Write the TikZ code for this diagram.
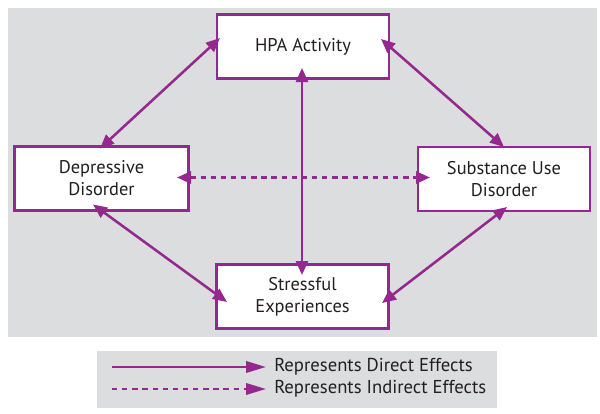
\documentclass[tikz,border=0pt]{standalone}
\usepackage{fontspec}
\setmainfont{PT Sans}
\usetikzlibrary{arrows.meta,calc}
\definecolor{vio}{RGB}{148,40,142}
\definecolor{bggray}{RGB}{220,221,222}
\definecolor{txt}{RGB}{35,31,32}
\begin{document}
\begin{tikzpicture}[x=0.75pt,y=-0.75pt,
  box/.style={draw=vio,line width=2.1pt,fill=white,minimum width=129pt,minimum height=48pt,
    inner sep=2pt,align=center,text=txt,font=\fontsize{13.8}{16.5}\selectfont},
  biarrow/.style={vio,line width=1.9pt,{Triangle[length=10.5pt,width=9pt]}-{Triangle[length=10.5pt,width=9pt]}},
  dasharrow/.style={biarrow,dash pattern=on 4pt off 3.6pt},
  legarrow/.style={vio,line width=1.9pt,-{Triangle[length=15pt,width=8.5pt]}},
  legtext/.style={anchor=west,inner sep=0pt,text=txt,font=\fontsize{14}{16}\selectfont}]
\useasboundingbox (0,0) rectangle (600,414);
\fill[bggray] (8,8) rectangle (597,337);
\fill[bggray] (97,351) rectangle (497,408);

\node[box] (hpa) at (303,46.5) {HPA Activity};
\node[box,minimum width=130.5pt] (dep) at (101.5,178.5) {Depressive\\Disorder};
\node[box] (sub) at (504,179) {Substance Use\\Disorder};
\node[box] (stress) at (302.5,296.5) {Stressful\\Experiences};

\draw[biarrow] ([shift={(-83,-8.5)}]hpa.center) -- ([shift={(-1.5,-30)}]dep.center);
\draw[biarrow] ([shift={(78,-7.5)}]hpa.center) -- ([shift={(0,-32)}]sub.center);
\draw[biarrow] ([shift={(-8.5,26)}]dep.center) -- ([shift={(-75.5,5.5)}]stress.center);
\draw[biarrow] ([shift={(3,28)}]sub.center) -- ([shift={(79.5,6.5)}]stress.center);
\draw[biarrow] ([shift={(-1,21.5)}]hpa.center) -- ([shift={(-0.5,-21.5)}]stress.center);
\draw[dasharrow] ([shift={(75.5,-1)}]dep.center) -- ([shift={(-74,-1.5)}]sub.center);

\coordinate (l1s) at (112,367);
\coordinate (l1e) at (266,367);
\coordinate (l2s) at (112,389);
\coordinate (l2e) at (266,389);
\draw[legarrow] (l1s) -- (l1e);
\draw[legarrow,dash pattern=on 4pt off 3.6pt] (l2s) -- (l2e);
\node[legtext] (t1) at (274,367) {Represents Direct Effects};
\node[legtext] (t2) at (274,389) {Represents Indirect Effects};
\end{tikzpicture}
\end{document}
